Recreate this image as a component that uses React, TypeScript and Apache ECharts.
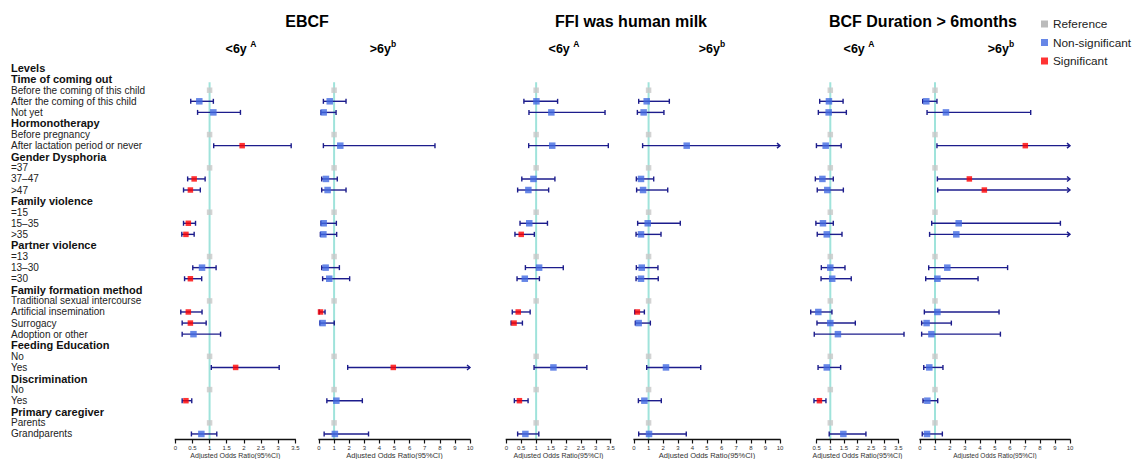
import React, { useEffect, useRef } from 'react';
import * as echarts from 'echarts';

// ---------- DATA ----------
const rowLabels = [
  'Levels',
  'Time of coming out',
  'Before the coming of this child',
  'After the coming of this child',
  'Not yet',
  'Hormonotherapy',
  'Before pregnancy',
  'After lactation period or never',
  'Gender Dysphoria',
  '=37',
  '37–47',
  '>47',
  'Family violence',
  '=15',
  '15–35',
  '>35',
  'Partner violence',
  '=13',
  '13–30',
  '=30',
  'Family formation method',
  'Traditional sexual intercourse',
  'Artificial insemination',
  'Surrogacy',
  'Adoption or other',
  'Feeding Education',
  'No',
  'Yes',
  'Discrimination',
  'No',
  'Yes',
  'Primary caregiver',
  'Parents',
  'Grandparents',
];
const headerRows = [0, 1, 5, 8, 12, 16, 20, 25, 28, 31];
const referenceRows = [2, 6, 9, 13, 17, 21, 26, 29, 32];
const estimateRows = [3, 4, 7, 10, 11, 14, 15, 18, 19, 22, 23, 24, 27, 30, 33];

// [adjusted OR, lower 95%CI, upper 95%CI, significant (1) / not (0)], in estimateRows order
// Infinity = upper bound beyond the axis (drawn as an arrow)
const ebcfUnder6 = [
  [0.70, 0.45, 1.11, 0], [1.11, 0.65, 1.90, 0], [1.95, 1.12, 3.38, 1],
  [0.55, 0.36, 0.87, 1], [0.44, 0.24, 0.73, 1], [0.38, 0.24, 0.59, 1],
  [0.31, 0.19, 0.55, 1], [0.78, 0.51, 1.19, 0], [0.44, 0.27, 0.77, 1],
  [0.38, 0.16, 0.78, 1], [0.44, 0.20, 0.90, 1], [0.53, 0.20, 1.32, 0],
  [1.76, 1.05, 3.03, 1], [0.31, 0.20, 0.48, 1], [0.76, 0.47, 1.21, 0],
];
const ebcfOver6 = [
  [0.71, 0.29, 1.79, 0], [0.31, 0.13, 1.13, 0], [1.41, 0.29, 7.68, 0],
  [0.46, 0.18, 1.21, 0], [0.57, 0.18, 1.79, 0], [0.31, 0.13, 1.15, 0],
  [0.29, 0.09, 1.17, 0], [0.44, 0.18, 1.35, 0], [0.68, 0.24, 2.03, 0],
  [0.10, 0.02, 0.40, 1], [0.24, 0.06, 1.01, 0], null,
  [4.92, 1.90, Infinity, 1], [1.15, 0.52, 2.87, 0], [1.05, 0.34, 3.28, 0],
];
const ffiUnder6 = [
  [1.01, 0.59, 1.72, 0], [1.51, 0.76, 3.31, 0], [1.54, 0.75, 3.42, 0],
  [0.91, 0.52, 1.63, 0], [0.74, 0.38, 1.42, 0], [0.77, 0.46, 1.38, 0],
  [0.50, 0.29, 0.94, 1], [1.10, 0.64, 1.91, 0], [0.62, 0.36, 1.11, 0],
  [0.40, 0.20, 0.80, 1], [0.26, 0.16, 0.54, 1], null,
  [1.58, 0.93, 2.70, 0], [0.44, 0.27, 0.73, 1], [0.64, 0.38, 1.09, 0],
];
const ffiOver6 = [
  [0.87, 0.32, 2.42, 0], [0.66, 0.23, 2.05, 0], [3.61, 0.59, Infinity, 0],
  [0.48, 0.16, 1.35, 0], [0.62, 0.18, 2.31, 0], [0.94, 0.25, 3.17, 0],
  [0.48, 0.14, 1.85, 0], [0.53, 0.16, 1.64, 0], [0.48, 0.14, 1.66, 0],
  [0.23, 0.05, 0.71, 1], [0.32, 0.09, 1.12, 0], null,
  [2.19, 0.87, 4.57, 0], [0.71, 0.30, 1.87, 0], [1.03, 0.32, 3.58, 0],
];
const bcfUnder6 = [
  [0.95, 0.61, 1.47, 0], [0.94, 0.56, 1.59, 0], [0.83, 0.49, 1.40, 0],
  [0.71, 0.45, 1.11, 0], [0.89, 0.52, 1.48, 0], [0.73, 0.47, 1.11, 0],
  [0.87, 0.52, 1.43, 0], [1.00, 0.67, 1.54, 0], [1.07, 0.66, 1.77, 0],
  [0.56, 0.28, 1.06, 0], [1.00, 0.51, 1.92, 0], [1.28, 0.41, 3.71, 0],
  [0.87, 0.55, 1.38, 0], [0.60, 0.40, 0.84, 1], [1.48, 0.96, 2.31, 0],
];
const bcfOver6 = [
  [0.42, 0.18, 1.13, 0], [1.73, 0.47, 7.38, 0], [7.02, 1.13, Infinity, 1],
  [3.29, 1.16, Infinity, 1], [4.29, 1.18, Infinity, 1], [2.58, 0.78, 9.36, 0],
  [2.42, 0.64, Infinity, 0], [1.82, 0.58, 5.84, 0], [1.16, 0.38, 3.87, 0],
  [1.16, 0.29, 5.27, 0], [0.44, 0.11, 2.09, 0], [0.76, 0.11, 5.36, 0],
  [0.62, 0.25, 1.53, 0], [0.49, 0.20, 1.18, 0], [0.47, 0.15, 1.49, 0],
];

const groupTitles = ['EBCF', 'FFI was human milk', 'BCF Duration > 6months'];
const ageLabels = ['<6y', '>6y'];
const ageMarks = ['A', 'b'];
const ticksHalf0 = [0, 0.5, 1, 1.5, 2, 2.5, 3, 3.5];
const ticksHalf05 = [0.5, 1, 1.5, 2, 2.5, 3, 3.5];
const ticksUnit0 = [0, 1, 2, 3, 4, 5, 6, 7, 8, 9, 10];
const axisTitle = 'Adjusted Odds Ratio(95%CI)';
const legendNames = ['Reference', 'Non-significant', 'Significant'];

// ---------- STYLE / LAYOUT ----------
const FONT = '"Liberation Sans", Arial, Helvetica, sans-serif';
const CI_COLOR = '#1c1c8c';
const REF_LINE = '#9fe3db';
const C_REF = '#c8c8c8';
const C_NS = '#4169e1';
const C_SIG = '#ff0000';
const GRID_TOP = 62.5;
const GRID_H = 377;

const panels = [
  { data: ebcfUnder6, left: 175.3, width: 120, min: 0, max: 3.5, ticks: ticksHalf0, nameSize: 7, subX: 241 },
  { data: ebcfOver6, left: 319, width: 151, min: 0, max: 10, ticks: ticksUnit0, nameSize: 7.5, subX: 383 },
  { data: ffiUnder6, left: 506.3, width: 104.4, min: 0, max: 3.5, ticks: ticksHalf0, nameSize: 7, subX: 564 },
  { data: ffiOver6, left: 634, width: 146, min: 0, max: 10, ticks: ticksUnit0, nameSize: 7.5, subX: 712 },
  { data: bcfUnder6, left: 809.9, width: 95.2, min: 0.25, max: 3.75, ticks: ticksHalf05, nameSize: 7, subX: 859 },
  { data: bcfOver6, left: 920, width: 150, min: 0, max: 10, ticks: ticksUnit0, nameSize: 6.5, subX: 1001 },
];
const titleX = [307, 631, 923];

function buildOption() {
  const grid: any[] = [];
  const xAxis: any[] = [];
  const yAxis: any[] = [];
  const series: any[] = [];

  panels.forEach((p, i) => {
    grid.push({ left: p.left, width: p.width, top: GRID_TOP, height: GRID_H, outerBoundsMode: 'none' });
    xAxis.push({
      gridIndex: i,
      type: 'value',
      min: p.min,
      max: p.max,
      axisLine: { show: false, lineStyle: { color: '#111' } },
      splitLine: { show: false },
      axisTick: { show: true, length: 4, customValues: p.ticks, lineStyle: { color: '#111', width: 1.2 } },
      axisLabel: { customValues: p.ticks, fontSize: 6, color: '#333', margin: 5, fontFamily: FONT },
      name: axisTitle,
      nameLocation: 'middle',
      nameGap: 12,
      nameMoveOverlap: false,
      nameTextStyle: { fontSize: p.nameSize, color: '#333333', fontFamily: FONT },
    });
    yAxis.push({
      gridIndex: i,
      type: 'category',
      data: rowLabels,
      inverse: true,
      axisLine: { show: false },
      axisTick: { show: false },
      splitLine: { show: false },
      axisLabel: i === 0
        ? {
            show: true,
            interval: 0,
            align: 'left',
            margin: p.left - 11,
            formatter: (v: string, idx: number) => (headerRows.includes(idx) ? `{h|${v}}` : `{n|${v}}`),
            rich: {
              h: { fontSize: 11, fontWeight: 'bold', color: '#111', fontFamily: FONT },
              n: { fontSize: 10, color: '#222', fontFamily: FONT },
            },
          }
        : { show: false },
    });

    const lastTick = p.ticks[p.ticks.length - 1];
    // reference line at OR = 1 plus the axis line spanning the tick range
    series.push({
      type: 'custom',
      name: 'refline' + i,
      xAxisIndex: i,
      yAxisIndex: i,
      z: 1,
      silent: true,
      encode: { x: 0, y: 1 },
      data: [[1, 1]],
      renderItem: (params: any, api: any) => {
        const a = api.coord([1, 1]);
        const b = api.coord([1, 2]);
        const band = b[1] - a[1];
        const bottomRow = api.coord([1, rowLabels.length - 1]);
        const bottom = bottomRow[1] + band / 2;
        const top = a[1] + band * 0.28;
        const t0 = api.coord([p.ticks[0], rowLabels.length - 1])[0];
        const t1 = api.coord([lastTick, rowLabels.length - 1])[0];
        return {
          type: 'group',
          children: [
            { type: 'line', shape: { x1: a[0], y1: top, x2: a[0], y2: bottom }, style: { stroke: REF_LINE, lineWidth: 2 } },
            { type: 'line', shape: { x1: t0 - 0.6, y1: bottom, x2: t1 + 0.6, y2: bottom }, style: { stroke: '#111', lineWidth: 1.5 } },
          ],
        };
      },
    });

    // confidence intervals
    const ciData: any[] = [];
    p.data.forEach((d: any, k: number) => {
      if (!d) return;
      const clipped = d[2] > p.max ? 1 : 0;
      ciData.push([d[0], d[1], clipped ? p.max : d[2], estimateRows[k], clipped]);
    });
    series.push({
      type: 'custom',
      name: 'ci' + i,
      xAxisIndex: i,
      yAxisIndex: i,
      z: 2,
      silent: true,
      encode: { x: [0, 1, 2], y: 3 },
      data: ciData,
      renderItem: (params: any, api: any) => {
        const row = api.value(3);
        const p0 = api.coord([api.value(1), row]);
        const p1 = api.coord([api.value(2), row]);
        const clipped = api.value(4) === 1;
        const y = p0[1];
        const h = 2.5;
        const st = { stroke: CI_COLOR, lineWidth: 1.4, fill: null };
        const children: any[] = [
          { type: 'line', shape: { x1: p0[0], y1: y, x2: p1[0], y2: y }, style: st },
          { type: 'line', shape: { x1: p0[0], y1: y - h, x2: p0[0], y2: y + h }, style: st },
        ];
        if (clipped) {
          children.push({
            type: 'polyline',
            shape: { points: [[p1[0] - 3, y - h], [p1[0], y], [p1[0] - 3, y + h]] },
            style: st,
          });
        } else {
          children.push({ type: 'line', shape: { x1: p1[0], y1: y - h, x2: p1[0], y2: y + h }, style: st });
        }
        return { type: 'group', children };
      },
    });

    // points
    series.push({
      type: 'scatter',
      name: legendNames[0],
      xAxisIndex: i,
      yAxisIndex: i,
      symbol: 'rect',
      symbolSize: 5.5,
      z: 3,
      itemStyle: { color: C_REF },
      data: referenceRows.map((r) => [1, r]),
    });
    series.push({
      type: 'scatter',
      name: legendNames[1],
      xAxisIndex: i,
      yAxisIndex: i,
      symbol: 'rect',
      symbolSize: 6.5,
      z: 4,
      itemStyle: { color: C_NS },
      data: p.data
        .map((d: any, k: number) => (d && d[3] === 0 ? [d[0], estimateRows[k]] : null))
        .filter((v: any) => v),
    });
    series.push({
      type: 'scatter',
      name: legendNames[2],
      xAxisIndex: i,
      yAxisIndex: i,
      symbol: 'rect',
      symbolSize: 5.5,
      z: 4,
      itemStyle: { color: C_SIG },
      data: p.data
        .map((d: any, k: number) => (d && d[3] === 1 ? [d[0], estimateRows[k]] : null))
        .filter((v: any) => v),
    });
  });

  const graphic: any[] = [];
  groupTitles.forEach((t, g) => {
    graphic.push({
      type: 'text',
      silent: true,
      style: {
        text: t,
        x: titleX[g],
        y: 21,
        fill: '#000',
        fontSize: 16,
        fontWeight: 'bold',
        fontFamily: FONT,
        align: 'center',
        verticalAlign: 'middle',
        textAlign: 'center',
        textVerticalAlign: 'middle',
      },
    });
  });
  panels.forEach((p, i) => {
    const a = i % 2;
    graphic.push({
      type: 'text',
      silent: true,
      style: {
        text: `{m|${ageLabels[a]}${a === 0 ? ' ' : ''}}{s|${ageMarks[a]}}`,
        x: p.subX,
        y: 47,
        fill: '#000',
        align: 'center',
        verticalAlign: 'middle',
        textAlign: 'center',
        textVerticalAlign: 'middle',
        rich: {
          m: { fontSize: 12.5, fontWeight: 'bold', fontFamily: FONT, lineHeight: 16, verticalAlign: 'bottom', fill: '#000' },
          s: { fontSize: 8.5, fontWeight: 'bold', fontFamily: FONT, lineHeight: 10, verticalAlign: 'top', fill: '#000' },
        },
      },
    });
  });

  return {
    animation: false,
    backgroundColor: '#fff',
    textStyle: { fontFamily: FONT },
    legend: {
      orient: 'vertical',
      left: 1036,
      top: 13,
      icon: 'rect',
      itemWidth: 7,
      itemHeight: 7,
      itemGap: 6.5,
      selectedMode: false,
      textStyle: { fontSize: 11.8, color: '#222', fontFamily: FONT },
      data: [
        { name: legendNames[0], itemStyle: { color: '#aaaaaa' } },
        { name: legendNames[1], itemStyle: { color: C_NS } },
        { name: legendNames[2], itemStyle: { color: C_SIG } },
      ],
    },
    grid,
    xAxis,
    yAxis,
    series,
    graphic,
  };
}

export default function App() {
  const ref = useRef<HTMLDivElement>(null);
  useEffect(() => {
    if (!ref.current) return;
    const chart = echarts.init(ref.current, undefined, { renderer: 'svg' });
    chart.setOption(buildOption() as any);
    return () => chart.dispose();
  }, []);
  return (
    <div
      ref={ref}
      style={{ position: 'fixed', left: 0, top: 0, width: 1133, height: 459, background: '#fff' }}
    />
  );
}
